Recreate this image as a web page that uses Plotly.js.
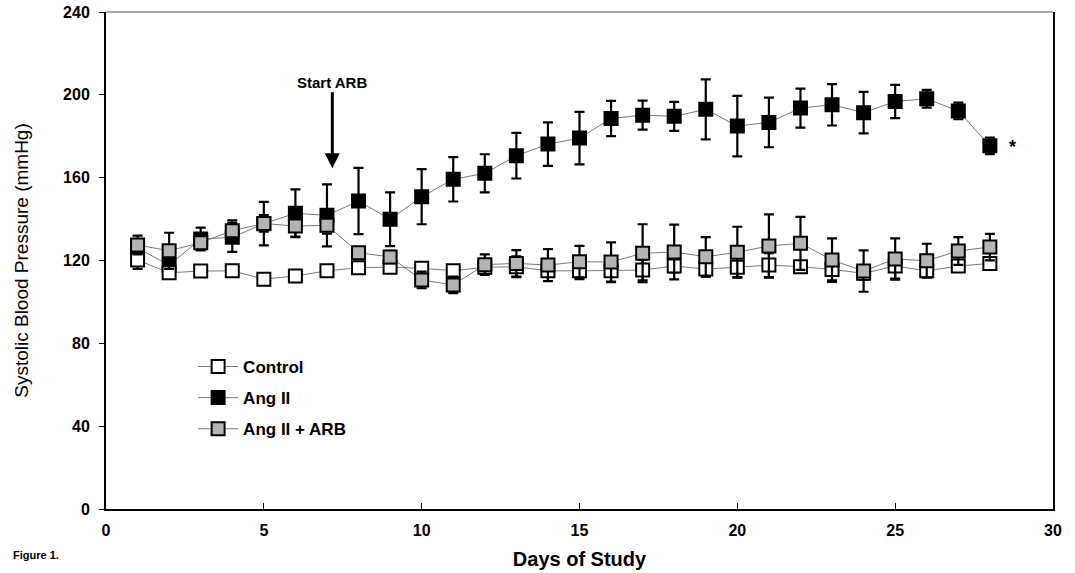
<!DOCTYPE html>
<html>
<head>
<meta charset="utf-8">
<script src="https://cdn.plot.ly/plotly-3.0.1.min.js"></script>
<style>html,body{margin:0;padding:0;background:#fff;}#chart{width:1075px;height:573px;}</style>
</head>
<body>
<div id="chart"></div>
<script>
const days = [1,2,3,4,5,6,7,8,9,10,11,12,13,14,15,16,17,18,19,20,21,22,23,24,25,26,27,28];

const controlMean = [120.2,114.1,114.9,115.0,111.0,112.5,115.0,116.5,116.8,116.2,115.1,116.7,117.0,115.0,115.0,115.1,115.4,117.3,115.9,116.7,117.8,117.0,115.7,113.8,117.3,115.0,117.3,118.6];
const controlErr  = [4.3,2,2,2,2,2,2,2,2,2,2,3,5,5,4,5.6,5,3,3.7,4.7,5.8,2,5.3,3,6,2,2,2];

const angMean = [126.0,117.8,130.4,131.2,137.8,142.8,141.8,148.7,139.9,150.8,159.2,162.1,170.6,176.2,179.1,188.6,190.2,189.6,193.0,184.9,186.7,193.6,195.2,191.4,196.8,198.1,192.2,175.4];
const angErr  = [4,3,5.5,7,10.5,11.5,15,16,13,13.3,10.7,9.2,11,10.5,12.7,8.5,7,7,14.5,14.6,12,9.4,10,10,8,4.3,4,4];

const arbMean = [127.5,124.7,128.6,134.4,137.9,136.6,137.0,123.8,121.7,110.6,108.2,118.0,118.6,117.8,119.4,119.3,123.5,124.1,121.8,124.0,127.0,128.3,120.2,114.9,120.7,119.9,124.6,126.5];
const arbErr  = [4.5,8.7,3,5,4,5,4,2,3,4,4,5,6.4,7.7,7.7,9.5,14,13.2,9.5,12.3,15.3,12.8,10.5,10,10,8.2,6.7,6.4];

const seriesNames = ['Control','Ang II','Ang II + ARB'];
const xTicks = [0,5,10,15,20,25,30];
const yTicks = [0,40,80,120,160,200,240];

function mk(name, y, err, fill, rank){
  return {
    type:'scatter', mode:'lines+markers', name:name, x:days, y:y,
    legendrank:rank, legendgroup:'g'+rank,
    line:{color:'#7a7a7a', width:1},
    marker:{symbol:'square', size:13, color:fill, line:{color:'#000', width:2}},
    error_y:{type:'data', array:err, visible:true, color:'#000', thickness:2.2, width:5}
  };
}

const traces = [
  mk(seriesNames[1], angMean, angErr, '#000000', 2),
  mk(seriesNames[0], controlMean, controlErr, '#ffffff', 1),
  mk(seriesNames[2], arbMean, arbErr, '#b4b4b4', 3)
];

const layout = {
  width:1075, height:573,
  margin:{l:106, r:22, t:12, b:64},
  paper_bgcolor:'#fff', plot_bgcolor:'#fff',
  font:{family:'Arial, Liberation Sans, sans-serif', color:'#000'},
  showlegend:true,
  legend:{x:0.092, y:0.322, xanchor:'left', yanchor:'top', bgcolor:'rgba(0,0,0,0)', traceorder:'grouped',
          font:{size:17, family:'Arial, Liberation Sans, sans-serif', weight:'bold'}, tracegroupgap:6, itemwidth:40},
  xaxis:{range:[0,30], tickvals:xTicks, ticktext:xTicks.map(String), showgrid:false, zeroline:false,
         showline:true, linecolor:'#000', linewidth:2, ticks:'inside', ticklen:6, tickwidth:1, tickcolor:'#000',
         tickfont:{size:16, weight:'bold'}, ticklabelstandoff:6,
         title:{text:'Days of Study', font:{size:20, weight:'bold'}, standoff:14}},
  yaxis:{range:[0,240], tickvals:yTicks, ticktext:yTicks.map(String), showgrid:false, zeroline:false,
         showline:true, linecolor:'#000', linewidth:2, mirror:true, ticks:'outside', ticklen:5, tickwidth:1, tickcolor:'#000',
         tickfont:{size:16, weight:'bold'}, ticklabelstandoff:6,
         title:{text:'Systolic Blood Pressure (mmHg)', font:{size:19}, standoff:29}},
  shapes:[{type:'line', xref:'paper', yref:'paper', x0:0, x1:1, y0:1, y1:1, line:{color:'#888', width:1.5}}],
  annotations:[
    {x:7.17, y:164.5, ax:7.17, ay:202, axref:'x', ayref:'y', xref:'x', yref:'y', text:'', showarrow:true,
     arrowhead:2, arrowsize:1, arrowwidth:3, arrowcolor:'#000'},
    {x:7.17, y:206, xref:'x', yref:'y', text:'<b>Start ARB</b>', showarrow:false, font:{size:15}, yanchor:'middle'},
    {x:28.55, y:175, xref:'x', yref:'y', text:'<b>*</b>', showarrow:false, font:{size:18}, xanchor:'left', yanchor:'middle'},
    {xref:'paper', yref:'paper', x:-0.1, y:-0.093, xanchor:'left', yanchor:'middle', text:'<b>Figure 1.</b>', showarrow:false, font:{size:11}}
  ]
};

Plotly.newPlot('chart', traces, layout, {displayModeBar:false, staticPlot:true});
</script>
</body>
</html>
